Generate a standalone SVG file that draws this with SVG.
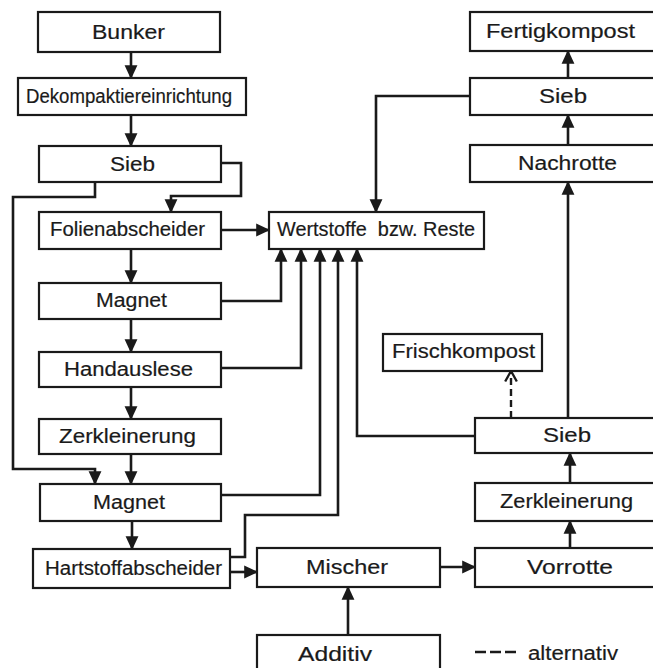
<svg xmlns="http://www.w3.org/2000/svg" width="653" height="668" viewBox="0 0 653 668">
<style>
.box{fill:#fff;stroke:#1a1a1a;stroke-width:2.2}
.lbl{font-family:"Liberation Sans","DejaVu Sans",sans-serif;font-size:20px;fill:#1a1a1a;stroke:#1a1a1a;stroke-width:0.2}
.c{fill:none;stroke:#1a1a1a;stroke-width:2.6;marker-end:url(#ah)}
.d{fill:none;stroke:#1a1a1a;stroke-width:2.4;stroke-dasharray:7,4;marker-end:url(#oh)}
</style>
<defs>
<marker id="ah" markerUnits="userSpaceOnUse" markerWidth="14" markerHeight="14" viewBox="0 0 12 12" refX="11" refY="6" orient="auto">
<path d="M0,0.5 L12,6 L0,11.5 z" fill="#1a1a1a"/>
</marker>
<marker id="oh" markerUnits="userSpaceOnUse" markerWidth="14" markerHeight="14" viewBox="0 0 12 12" refX="11" refY="6" orient="auto">
<path d="M2,1 L11,6 L2,11" fill="none" stroke="#1a1a1a" stroke-width="2"/>
</marker>
</defs>
<rect width="653" height="668" fill="#fff"/>
<g id="connectors">
<path class="c" d="M131,52 V78"/>
<path class="c" d="M131,115 V146"/>
<path class="c" d="M95,182 V197 H13 V469 H95 V484"/>
<path class="c" d="M221,163 H241 V196 H171 V212"/>
<path class="c" d="M470,96 H376 V212"/>
<path class="c" d="M221,230 H269"/>
<path class="c" d="M131,249 V283"/>
<path class="c" d="M131,319 V352"/>
<path class="c" d="M131,387 V419"/>
<path class="c" d="M131,454 V484"/>
<path class="c" d="M132,521 V549"/>
<path class="c" d="M221,301 H281 V249"/>
<path class="c" d="M221,368 H301 V249"/>
<path class="c" d="M221,495 H320 V249"/>
<path class="c" d="M230,557 H245 V515 H338 V249"/>
<path class="c" d="M475,436 H357 V249"/>
<path class="c" d="M230,572 H257"/>
<path class="c" d="M440,567 H475"/>
<path class="c" d="M348,635 V587"/>
<path class="c" d="M570,548 V521"/>
<path class="c" d="M570,483 V453"/>
<path class="c" d="M568,418 V182"/>
<path class="c" d="M568,145 V115"/>
<path class="c" d="M568,78 V51"/>
<path class="d" d="M511,418 V371"/>
</g>
<g id="bunker"><rect class="box" x="38" y="12" width="182" height="40"/><text class="lbl" x="92" y="39" textLength="73" lengthAdjust="spacingAndGlyphs">Bunker</text></g>
<g id="dekompakt"><rect class="box" x="18" y="78" width="228" height="37"/><text class="lbl" x="26" y="103" textLength="206" lengthAdjust="spacingAndGlyphs">Dekompaktiereinrichtung</text></g>
<g id="sieb1"><rect class="box" x="39" y="146" width="182" height="36"/><text class="lbl" x="110" y="171" textLength="45" lengthAdjust="spacingAndGlyphs">Sieb</text></g>
<g id="folien"><rect class="box" x="39" y="212" width="182" height="37"/><text class="lbl" x="50" y="236" textLength="155" lengthAdjust="spacingAndGlyphs">Folienabscheider</text></g>
<g id="magnet1"><rect class="box" x="39" y="283" width="182" height="36"/><text class="lbl" x="96" y="307" textLength="71" lengthAdjust="spacingAndGlyphs">Magnet</text></g>
<g id="handauslese"><rect class="box" x="39" y="352" width="182" height="35"/><text class="lbl" x="64" y="376" textLength="129" lengthAdjust="spacingAndGlyphs">Handauslese</text></g>
<g id="zerkl1"><rect class="box" x="39" y="419" width="182" height="35"/><text class="lbl" x="59" y="443" textLength="137" lengthAdjust="spacingAndGlyphs">Zerkleinerung</text></g>
<g id="magnet2"><rect class="box" x="40" y="484" width="181" height="37"/><text class="lbl" x="93" y="509" textLength="72" lengthAdjust="spacingAndGlyphs">Magnet</text></g>
<g id="hartstoff"><rect class="box" x="33" y="549" width="197" height="39"/><text class="lbl" x="45" y="575" textLength="177" lengthAdjust="spacingAndGlyphs">Hartstoffabscheider</text></g>
<g id="wertstoffe"><rect class="box" x="269" y="212" width="215" height="37"/><text class="lbl" x="277" y="236" textLength="198" lengthAdjust="spacingAndGlyphs" xml:space="preserve">Wertstoffe  bzw. Reste</text></g>
<g id="frischkompost"><rect class="box" x="383" y="334" width="159" height="37"/><text class="lbl" x="392" y="358" textLength="143" lengthAdjust="spacingAndGlyphs">Frischkompost</text></g>
<g id="mischer"><rect class="box" x="257" y="548" width="183" height="39"/><text class="lbl" x="306" y="574" textLength="82" lengthAdjust="spacingAndGlyphs">Mischer</text></g>
<g id="additiv"><rect class="box" x="257" y="635" width="183" height="40"/><text class="lbl" x="298" y="661" textLength="74" lengthAdjust="spacingAndGlyphs">Additiv</text></g>
<g id="fertigkompost"><rect class="box" x="470" y="12" width="196" height="39"/><text class="lbl" x="486" y="38" textLength="149" lengthAdjust="spacingAndGlyphs">Fertigkompost</text></g>
<g id="sieb2"><rect class="box" x="470" y="78" width="196" height="37"/><text class="lbl" x="539" y="103" textLength="48" lengthAdjust="spacingAndGlyphs">Sieb</text></g>
<g id="nachrotte"><rect class="box" x="470" y="145" width="196" height="37"/><text class="lbl" x="518" y="170" textLength="99" lengthAdjust="spacingAndGlyphs">Nachrotte</text></g>
<g id="sieb3"><rect class="box" x="475" y="418" width="196" height="35"/><text class="lbl" x="543" y="442" textLength="48" lengthAdjust="spacingAndGlyphs">Sieb</text></g>
<g id="zerkl2"><rect class="box" x="475" y="483" width="196" height="38"/><text class="lbl" x="500" y="508" textLength="133" lengthAdjust="spacingAndGlyphs">Zerkleinerung</text></g>
<g id="vorrotte"><rect class="box" x="475" y="548" width="196" height="39"/><text class="lbl" x="527" y="574" textLength="86" lengthAdjust="spacingAndGlyphs">Vorrotte</text></g>
<g id="legend">
<path d="M475,652 H516" fill="none" stroke="#1a1a1a" stroke-width="2.6" stroke-dasharray="11,4"/>
<text class="lbl" x="528" y="660" textLength="90" lengthAdjust="spacingAndGlyphs">alternativ</text>
</g>
</svg>
